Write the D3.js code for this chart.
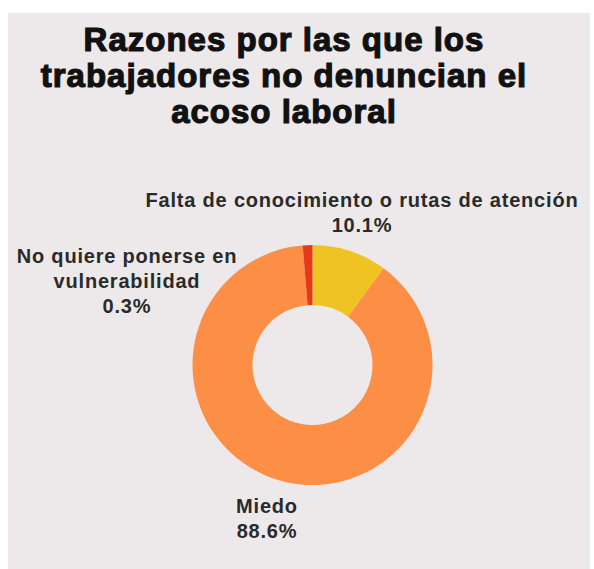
<!DOCTYPE html>
<html>
<head>
<meta charset="utf-8">
<script src="https://cdn.jsdelivr.net/npm/d3@7"></script>
<style>
html,body{margin:0;padding:0;background:#ffffff;}
svg{display:block;}
</style>
</head>
<body>
<script>
// ---- data ----
const titleLines = ["Razones por las que los", "trabajadores no denuncian el", "acoso laboral"];
const categories = ["Falta de conocimiento o rutas de atención", "Miedo", "No quiere ponerse en vulnerabilidad"];
const sliceValues = [10.1, 88.6, 1.3];
const valueLabels = ["10.1%", "88.6%", "0.3%"];
const colors = ["#efc422", "#fd8e46", "#e23a1a"];
const labelLines = [
  ["Falta de conocimiento o rutas de atención", "10.1%"],
  ["Miedo", "88.6%"],
  ["No quiere ponerse en", "vulnerabilidad", "0.3%"]
];

const W = 594, H = 569;
const svg = d3.select("body").append("svg").attr("width", W).attr("height", H);

// panel background
svg.append("rect").attr("x", 8).attr("y", 13).attr("width", 582).attr("height", 556).attr("fill", "#ede9ea");

// title
const title = svg.append("text")
  .attr("x", 284).attr("text-anchor", "middle")
  .attr("font-family", "Liberation Sans, Arial, sans-serif")
  .attr("font-weight", "bold").attr("font-size", 33)
  .attr("letter-spacing", 1)
  .attr("fill", "#111").attr("stroke", "#111").attr("stroke-width", 1.2);
titleLines.forEach((t, i) => {
  title.append("tspan").attr("x", 284).attr("y", 51 + i * 36).text(t);
});

// donut
const cx = 312.5, cy = 365, R = 120, r0 = 60;
const pie = d3.pie().sort(null).value(d => d);
const arcs = pie(sliceValues);
const arc = d3.arc().innerRadius(r0).outerRadius(R);
const g = svg.append("g").attr("transform", `translate(${cx},${cy})`);
g.selectAll("path").data(arcs).enter().append("path")
  .attr("d", arc)
  .attr("fill", (d, i) => colors[i]);

// labels
const labelPos = [
  {x: 362, y: 207},
  {x: 267, y: 513},
  {x: 127, y: 263}
];
labelLines.forEach((lines, i) => {
  const t = svg.append("text")
    .attr("text-anchor", "middle")
    .attr("font-family", "Liberation Sans, Arial, sans-serif")
    .attr("font-weight", "bold").attr("font-size", 20)
    .attr("letter-spacing", 0.8)
    .attr("fill", "#2a2a2a");
  lines.forEach((l, j) => {
    t.append("tspan").attr("x", labelPos[i].x).attr("y", labelPos[i].y + j * 25).text(l);
  });
});
</script>
</body>
</html>
